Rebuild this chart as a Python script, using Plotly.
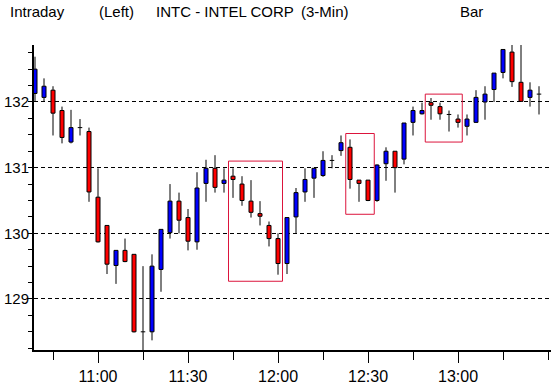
import plotly.graph_objects as go
from datetime import datetime, timedelta

# ---- data (3-min bars) ----
times = ["10:39", "10:42", "10:45", "10:48", "10:51", "10:54", "10:57", "11:00", "11:03", "11:06",
         "11:09", "11:12", "11:15", "11:18", "11:21", "11:24", "11:27", "11:30", "11:33", "11:36",
         "11:39", "11:42", "11:45", "11:48", "11:51", "11:54", "11:57", "12:00", "12:03", "12:06",
         "12:09", "12:12", "12:15", "12:18", "12:21", "12:24", "12:27", "12:30", "12:33", "12:36",
         "12:39", "12:42", "12:45", "12:48", "12:51", "12:54", "12:57", "13:00", "13:03", "13:06",
         "13:09", "13:12", "13:15", "13:18", "13:21", "13:24", "13:27"]

opens = [132.13, 132.07, 132.18, 131.87, 131.39, 131.61, 131.55, 130.55, 130.12, 129.51,
         129.74, 129.68, 128.50, 128.50, 129.45, 130.01, 130.49, 130.24, 129.87, 130.76,
         130.99, 130.76, 130.87, 130.75, 130.49, 130.30, 130.12, 129.92, 129.54, 130.25,
         130.63, 130.84, 130.88, 131.11, 131.26, 131.31, 130.81, 130.81, 130.50, 131.06,
         131.25, 131.13, 131.69, 131.82, 131.99, 131.93, 131.81, 131.74, 131.63, 131.69,
         132.00, 132.19, 132.45, 132.76, 132.30, 132.07, 132.12]

highs = [132.69, 132.36, 132.24, 131.93, 131.88, 131.74, 131.61, 130.99, 130.12, 129.74,
         129.92, 129.68, 129.50, 129.68, 130.06, 130.75, 130.62, 130.37, 130.93, 131.12,
         131.19, 130.99, 130.99, 130.87, 130.81, 130.49, 130.18, 130.00, 130.24, 130.69,
         130.99, 130.99, 131.25, 131.19, 131.49, 131.43, 130.81, 130.81, 131.05, 131.31,
         131.25, 131.68, 131.93, 131.99, 132.06, 131.99, 131.87, 131.81, 131.81, 132.18,
         132.24, 132.44, 132.80, 132.95, 132.95, 132.30, 132.24]

lows = [132.00, 132.00, 131.49, 131.37, 131.37, 131.49, 130.48, 129.86, 129.38, 129.23,
        129.56, 128.49, 128.15, 128.37, 129.11, 129.92, 130.00, 129.74, 129.75, 130.48,
        130.62, 130.62, 130.54, 130.42, 130.24, 130.12, 129.80, 129.37, 129.38, 130.00,
        130.48, 130.54, 130.86, 130.99, 131.18, 130.68, 130.48, 130.49, 130.48, 130.80,
        130.62, 131.05, 131.49, 131.81, 131.73, 131.73, 131.55, 131.61, 131.49, 131.68,
        131.73, 132.00, 132.36, 132.23, 132.00, 131.93, 131.81]

closes = [132.50, 132.24, 131.83, 131.46, 131.61, 131.61, 130.63, 129.87, 129.53, 129.74,
          129.57, 128.50, 128.50, 129.50, 130.06, 130.49, 130.20, 129.88, 130.69, 130.99,
          130.70, 130.81, 130.82, 130.50, 130.32, 130.26, 129.92, 129.54, 130.24, 130.62,
          130.82, 130.99, 131.11, 131.11, 131.38, 130.82, 130.76, 130.50, 131.04, 131.25,
          131.00, 131.68, 131.87, 131.87, 131.95, 131.82, 131.81, 131.69, 131.74, 132.07,
          132.12, 132.44, 132.80, 132.31, 132.01, 132.18, 132.12]

# highlighted pattern boxes: (start time, end time, top price, bottom price)
box_t0 = ["11:43:30", "12:22:35", "12:49:05"]
box_t1 = ["12:01:30", "12:32:05", "13:01:25"]
box_hi = [131.10, 131.52, 132.12]
box_lo = [129.27, 130.29, 131.39]

y_ticks = [129, 130, 131, 132]
x_tick_labels = ["11:00", "11:30", "12:00", "12:30", "13:00"]

DAY = "2024-01-02 "
xs = [datetime.strptime(DAY + t, "%Y-%m-%d %H:%M") for t in times]
n = len(xs)

BLUE = "#0000FF"
RED = "#FF0000"
BOXC = "#DC143C"
FONT = "Liberation Sans Narrow, Liberation Sans, Arial"

L, W, TOP, H = 34, 517, 45, 305
Y0, Y1 = 128.223, 132.868

fig = go.Figure()

# wicks: only outside the body (scatter layer is drawn above bars)
wx, wy = [], []
for x, o, h, l, c in zip(xs, opens, highs, lows, closes):
    top, bot = max(o, c), min(o, c)
    if h > top:
        wx += [x, x, None]
        wy += [top, h, None]
    if l < bot:
        wx += [x, x, None]
        wy += [bot, l, None]
fig.add_trace(go.Scatter(x=wx, y=wy, mode="lines", line=dict(color="black", width=1),
                         hoverinfo="skip", showlegend=False))

half = timedelta(seconds=45)
up = [i for i in range(n) if closes[i] > opens[i]]
dn = [i for i in range(n) if closes[i] < opens[i]]
dj = [i for i in range(n) if closes[i] == opens[i]]

for idx, col in ((up, BLUE), (dn, RED)):
    fig.add_trace(go.Bar(
        x=[xs[i] for i in idx],
        y=[abs(closes[i] - opens[i]) for i in idx],
        base=[min(opens[i], closes[i]) for i in idx],
        width=80000,
        marker=dict(color=col, line=dict(color="black", width=1)),
        showlegend=False, hoverinfo="skip"))

dx, dy = [], []
for i in dj:
    dx += [xs[i] - half, xs[i] + half, None]
    dy += [opens[i], opens[i], None]
fig.add_trace(go.Scatter(x=dx, y=dy, mode="lines", line=dict(color="black", width=1),
                         hoverinfo="skip", showlegend=False))

for a, b, hi, lo in zip(box_t0, box_t1, box_hi, box_lo):
    fig.add_shape(type="rect", xref="x", yref="y",
                  x0=DAY + a, x1=DAY + b, y0=lo, y1=hi,
                  line=dict(color=BOXC, width=1), fillcolor="rgba(0,0,0,0)")


def px2paper(px_x, px_y):
    return (px_x - L) / W, (TOP + H - px_y) / H


header = [("Intraday", 8), ("(Left)", 97), ("INTC - INTEL CORP", 154), ("(3-Min)", 299), ("Bar", 458)]
for txt, xp in header:
    ax, ay = px2paper(xp, 11)
    fig.add_annotation(text=txt, xref="paper", yref="paper", x=ax, y=ay,
                       xanchor="left", yanchor="middle", showarrow=False,
                       font=dict(family="Liberation Sans, Arial", size=15, color="black"))

fig.update_layout(
    width=551, height=385,
    margin=dict(l=L, r=0, t=TOP, b=35, autoexpand=False),
    paper_bgcolor="white", plot_bgcolor="white",
    barmode="overlay", showlegend=False,
    xaxis=dict(
        type="date", automargin=False,
        range=[DAY + "10:38:40", DAY + "13:31:00"],
        tickmode="array",
        tickvals=[DAY + t for t in x_tick_labels],
        ticktext=x_tick_labels,
        ticks="outside", ticklen=11, tickwidth=1, tickcolor="black",
        minor=dict(dtick=900000, tick0=DAY + "10:45", ticks="outside", ticklen=8,
                   tickwidth=1, tickcolor="black", showgrid=False),
        showline=True, linecolor="black", linewidth=2,
        showgrid=False, zeroline=False,
        ticklabelstandoff=0,
        tickfont=dict(family=FONT, size=16, color="black"),
    ),
    yaxis=dict(
        automargin=False,
        range=[Y0, Y1],
        tickmode="array", tickvals=y_ticks, ticktext=[str(v) for v in y_ticks],
        ticks="outside", ticklen=4, tickwidth=1, tickcolor="black",
        minor=dict(dtick=0.25, tick0=129, ticks="outside", ticklen=4,
                   tickwidth=1, tickcolor="black", showgrid=False),
        showline=True, linecolor="black", linewidth=2,
        showgrid=True, gridcolor="black", gridwidth=1, griddash="4px,3px",
        zeroline=False,
        ticklabelstandoff=-4,
        tickfont=dict(family=FONT, size=15, color="black"),
    ),
)

fig.write_html("out.html", config={"displayModeBar": False},
               post_script="document.body.style.margin='0';document.body.style.overflow='hidden';")
